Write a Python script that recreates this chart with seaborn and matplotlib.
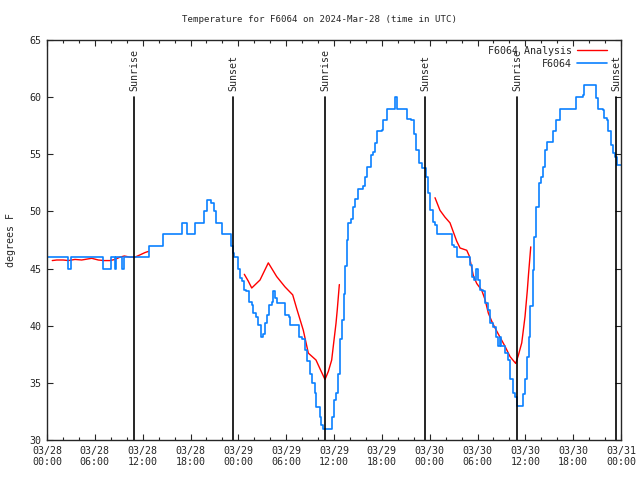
import numpy as np
import pandas as pd
import seaborn as sns
import matplotlib.pyplot as plt
import matplotlib.dates as mdates
from matplotlib.lines import Line2D

# Datos (horas desde 2024-03-28 00:00 UTC)
obs_hours = [0.1, 2.6, 3.0, 7.0, 8.0, 8.5, 8.7, 9.4, 9.6, 12.8,
             14.6, 16.9, 17.6, 18.6, 19.7, 20.1, 20.6, 20.9, 21.2, 22.0,
             23.1, 23.3, 23.5, 23.9, 24.2, 24.4, 24.7, 25.0, 25.3, 25.7,
             25.9, 26.2, 26.5, 26.8, 27.1, 27.35, 27.6, 27.9, 28.2, 28.4,
             28.6, 28.8, 29.8, 30.3, 30.5, 31.6, 32.0, 32.3, 32.6, 33.0,
             33.2, 33.6, 33.8, 34.2, 34.4, 34.6, 35.7, 36.0, 36.25, 36.5,
             36.7, 37.0, 37.2, 37.4, 37.6, 37.8, 38.1, 38.4, 38.6, 39.0,
             39.7, 39.9, 40.2, 40.6, 40.9, 41.1, 41.4, 42.0, 42.2, 42.6,
             43.6, 43.9, 45.2, 45.7, 46.0, 46.3, 46.6, 47.0, 47.5, 47.8,
             48.1, 48.4, 48.7, 48.9, 50.8, 51.1, 51.4, 53.0, 53.3, 53.5,
             53.8, 54.0, 54.3, 54.7, 54.9, 55.3, 55.6, 55.9, 56.3, 56.6,
             56.8, 57.0, 57.5, 57.8, 58.1, 58.4, 58.7, 58.9, 59.7, 59.9,
             60.2, 60.4, 60.6, 60.9, 61.1, 61.3, 61.7, 62.0, 62.2, 62.5,
             62.7, 63.5, 63.9, 64.3, 66.4, 67.2, 67.4, 68.9, 69.1, 69.7,
             69.9, 70.2, 70.4, 70.7, 71.0, 71.3, 71.5, 72.0]
obs_temp = [46, 45, 46, 45, 46, 45, 46, 45, 46, 47,
            48, 49, 48, 49, 50, 51, 50.7, 50, 49, 48,
            47, 46.4, 46, 45, 44.2, 43.9, 43.1, 43, 42.1, 41.8,
            41.1, 40.8, 40.1, 39, 39.3, 40.2, 40.9, 41.8, 42.1, 43,
            42.4, 42, 40.9, 40.8, 40.1, 39, 38.8, 37.9, 36.9, 35.8,
            35, 34.1, 32.9, 32, 31.3, 31, 32, 33.5, 34.1, 35.8,
            38.8, 40.5, 42.8, 45.2, 47.5, 49, 49.3, 50.4, 51.1, 52,
            52.2, 53, 53.9, 54.9, 55.2, 56, 57, 57.1, 58, 59,
            60, 59, 58.1, 58, 56.8, 55.4, 54.2, 53.8, 53, 51.6,
            50.1, 49.1, 48.8, 48, 47.1, 46.9, 46, 45.3, 44.3, 44,
            45, 44, 43.1, 43, 42, 41.4, 40.2, 39.9, 39, 38.2,
            39, 38.2, 37.6, 37, 35.3, 34.1, 33.8, 33, 34, 35.3,
            37.3, 39, 41.7, 44.9, 47.8, 50.4, 52.5, 53, 53.9, 55.4,
            56.1, 57, 58, 59, 60, 60.2, 61.1, 59.9, 59, 58.9,
            58.2, 58, 57, 55.8, 55.1, 54.8, 54.1, 54.1]

ana_seg1_hours = [0.66, 1.22, 2.04, 2.67, 3.51, 4.35, 5.61, 6.43, 7.19, 7.90,
                  8.53, 9.16, 9.70, 10.41, 11.04, 11.67, 12.29, 12.71]
ana_seg1_temp = [45.7, 45.75, 45.75, 45.7, 45.8, 45.75, 45.9, 45.75, 45.7, 45.7,
                 45.8, 46.0, 46.1, 46.0, 46.0, 46.2, 46.4, 46.5]
ana_seg2_hours = [24.75, 25.25, 25.68, 26.72, 27.76, 28.81, 29.85, 30.82, 31.32, 32.15,
                  32.78, 33.74, 34.33, 34.87, 35.29, 35.71, 35.91, 36.25, 36.41, 36.67]
ana_seg2_temp = [44.5, 43.9, 43.3, 44.0, 45.5, 44.3, 43.4, 42.7, 41.5, 39.6,
                 37.6, 37.0, 36.1, 35.3, 36.0, 37.0, 38.2, 40.2, 41.4, 43.6]
ana_seg3_hours = [48.67, 49.29, 49.92, 50.55, 50.97, 51.39, 51.81, 52.65, 52.97, 53.47,
                  53.90, 54.53, 54.94, 55.36, 55.78, 56.20, 56.82, 57.45, 58.08, 58.79,
                  59.12, 59.55, 59.96, 60.25, 60.4, 60.68]
ana_seg3_temp = [51.2, 50.1, 49.5, 49.0, 48.2, 47.4, 46.8, 46.6, 46.1, 44.4,
                 43.7, 43.1, 42.3, 41.1, 40.4, 39.8, 39.0, 38.2, 37.3, 36.7,
                 37.4, 38.5, 40.8, 43.1, 44.5, 46.9]

sun_events = ['2024-03-28 10:55', '2024-03-28 23:21', '2024-03-29 10:53',
              '2024-03-29 23:24', '2024-03-30 10:58', '2024-03-30 23:24']
sun_labels = ['Sunrise', 'Sunset', 'Sunrise', 'Sunset', 'Sunrise', 'Sunset']

base = pd.Timestamp('2024-03-28 00:00')
obs = pd.DataFrame({'time': base + pd.to_timedelta(obs_hours, unit='h'), 'temp': obs_temp})
ana = pd.concat([
    pd.DataFrame({'time': base + pd.to_timedelta(h, unit='h'), 'temp': t, 'seg': i})
    for i, (h, t) in enumerate([(ana_seg1_hours, ana_seg1_temp),
                                (ana_seg2_hours, ana_seg2_temp),
                                (ana_seg3_hours, ana_seg3_temp)])
])

sns.set_style('ticks')
plt.rcParams['font.family'] = ['DejaVu Sans Mono']
plt.rcParams['font.size'] = 7.2

fig = plt.figure(figsize=(6.4, 4.8), dpi=100)
ax = fig.add_axes([47 / 640, 40 / 480, 574 / 640, 400 / 480])

blue = '#0a80ff'
sns.lineplot(data=ana, x='time', y='temp', units='seg', estimator=None,
             color='red', linewidth=1.0, ax=ax)
sns.lineplot(data=obs, x='time', y='temp', color=blue, linewidth=1.2,
             drawstyle='steps-post', ax=ax)

for ev, lab in zip(sun_events, sun_labels):
    t = pd.Timestamp(ev)
    ax.plot([t, t], [30, 60], color='black', linewidth=1.2)
    ax.text(t, 60.5, lab, rotation=90, ha='center', va='bottom', fontsize=7.2)

ax.set_xlim(base, base + pd.Timedelta(hours=72))
ax.set_ylim(30, 65)
ax.xaxis.set_major_locator(mdates.HourLocator(byhour=[0, 6, 12, 18]))
ax.xaxis.set_minor_locator(mdates.HourLocator(byhour=range(0, 24, 2)))
ax.xaxis.set_major_formatter(mdates.DateFormatter('%m/%d\n%H:%M'))
ax.set_yticks(np.arange(30, 66, 5))

ax.tick_params(which='both', direction='in', top=True, right=True, width=0.8,
               labelsize=7.2, pad=4)
ax.tick_params(which='major', length=4.5)
ax.tick_params(which='minor', length=2.3)
for s in ax.spines.values():
    s.set_linewidth(1.0)

ax.set_xlabel('')
ax.set_ylabel('degrees F', fontsize=7.2, labelpad=9.5)
# titulo centrado en la figura, como en el original
fig.text(0.5, 1 - 20 / 480, 'Temperature for F6064 on 2024-Mar-28 (time in UTC)',
         ha='center', va='center', fontsize=6.6)

handles = [Line2D([], [], color='red', linewidth=1.0),
           Line2D([], [], color=blue, linewidth=1.2)]
leg = ax.legend(handles, ['F6064 Analysis', 'F6064'], loc='upper right', frameon=False,
                bbox_to_anchor=(1 - 8 / 574, 1.0), markerfirst=False, handlelength=3.0,
                fontsize=7.2, borderaxespad=0.2, labelspacing=0.3, handletextpad=0.5)
for txt in leg.get_texts():
    txt.set_ha('right')

fig.savefig('out.png', dpi=100)
